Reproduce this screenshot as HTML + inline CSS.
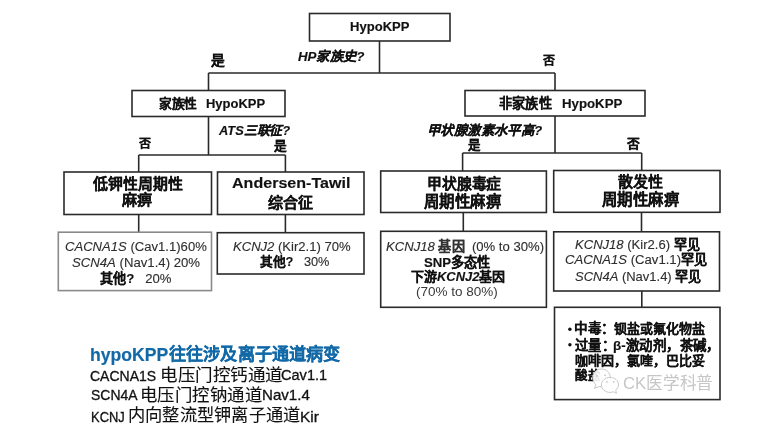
<!DOCTYPE html>
<html lang="zh-CN"><head><meta charset="utf-8"><style>
html,body{margin:0;padding:0;background:#fff;width:761px;height:430px;overflow:hidden;position:relative}
body{font-family:"Liberation Sans",sans-serif}
.t{position:absolute;white-space:nowrap;line-height:1;transform-origin:0 0}
svg{position:absolute;left:0;top:0}
.t2{position:absolute;white-space:nowrap;line-height:1;transform-origin:0 0;color:#c6c6c6;font-weight:normal}
.g{font-weight:normal;color:#2e2e2e;-webkit-text-stroke:0.12px currentColor}
b{-webkit-text-stroke:0.15px currentColor}
.b{font-weight:bold;color:#111}
#wrap{position:absolute;left:0;top:0;width:761px;height:430px;filter:blur(0.35px)}
</style></head><body><div id="wrap">
<svg width="761" height="430" viewBox="0 0 761 430"><g stroke="#2a2a2a" stroke-width="1.6" fill="none">
<line x1="379.5" y1="41" x2="379.5" y2="73"/>
<line x1="208.5" y1="73" x2="555" y2="73"/>
<line x1="208.5" y1="73" x2="208.5" y2="90.5"/>
<line x1="555" y1="73" x2="555" y2="90.5"/>
<line x1="208.5" y1="116.5" x2="208.5" y2="155"/>
<line x1="138.7" y1="155" x2="285.4" y2="155"/>
<line x1="138.7" y1="155" x2="138.7" y2="172"/>
<line x1="285.4" y1="155" x2="285.4" y2="172"/>
<line x1="555" y1="116" x2="555" y2="153"/>
<line x1="462.6" y1="153" x2="641.7" y2="153"/>
<line x1="462.6" y1="153" x2="462.6" y2="171"/>
<line x1="641.7" y1="153" x2="641.7" y2="171"/>
<line x1="138.7" y1="214.5" x2="138.7" y2="232.2"/>
<line x1="285.4" y1="214.5" x2="285.4" y2="232.7"/>
<line x1="463.3" y1="212.5" x2="463.3" y2="231.3"/>
<line x1="641.5" y1="212.3" x2="641.5" y2="231.8"/>
<line x1="641.8" y1="291" x2="641.8" y2="307.3"/>
<rect x="309.5" y="13.5" width="140.5" height="27.5"/>
<rect x="132" y="90.5" width="153" height="26"/>
<rect x="465" y="90.5" width="180" height="25.5"/>
<rect x="64" y="172" width="147.5" height="42.5"/>
<rect x="217.5" y="172" width="146.5" height="42.5"/>
<rect x="380.7" y="171" width="165.7" height="41.5"/>
<rect x="553.7" y="170.5" width="166.3" height="41.8"/>
<rect x="217.3" y="232.7" width="146.7" height="41.3"/>
<rect x="380.7" y="231.3" width="165.7" height="76"/>
<rect x="553.7" y="231.8" width="165.8" height="59.2"/>
<rect x="554.5" y="307.3" width="165.5" height="92.3"/>
<rect x="58.3" y="232.2" width="153.2" height="58.4" stroke="#8a8a8a"/></g><g fill="#111"><circle cx="569.9" cy="329.2" r="1.7"/><circle cx="569.9" cy="344.7" r="1.7"/></g></svg>
<div id="t1" class="t" style="left:350.10px;top:20.35px;font-size:13.00px;font-weight:bold;color:#111;transform:scale(1.0042,1.0132);-webkit-text-stroke:0.15px currentColor;">HypoKPP</div>
<div id="t2" class="t" style="left:297.64px;top:50.17px;font-size:13.00px;font-weight:bold;color:#111;font-style:italic;transform:scale(1.0228,1.0228);-webkit-text-stroke:0.15px currentColor;">HP家族史?</div>
<div id="t3" class="t" style="left:211.02px;top:53.32px;font-size:14.00px;font-weight:bold;color:#111;transform:scale(0.9836,0.9836);-webkit-text-stroke:0.15px currentColor;">是</div>
<div id="t4" class="t" style="left:543.00px;top:54.54px;font-size:12.00px;font-weight:bold;color:#111;transform:scale(1.0000,1.0000);-webkit-text-stroke:0.15px currentColor;">否</div>
<div id="t7" class="t" style="left:219.00px;top:123.59px;font-size:13.00px;font-weight:bold;color:#111;font-style:italic;transform:scale(0.9861,0.9861);-webkit-text-stroke:0.15px currentColor;">ATS三联征?</div>
<div id="t8" class="t" style="left:139.00px;top:137.54px;font-size:12.00px;font-weight:bold;color:#111;transform:scale(1.0000,1.0000);-webkit-text-stroke:0.15px currentColor;">否</div>
<div id="t9" class="t" style="left:273.98px;top:138.75px;font-size:13.00px;font-weight:bold;color:#111;transform:scale(0.9766,0.9766);-webkit-text-stroke:0.15px currentColor;">是</div>
<div id="t10" class="t" style="left:427.23px;top:123.90px;font-size:14.00px;font-weight:bold;color:#111;font-style:italic;transform:scale(0.9561,0.9561);-webkit-text-stroke:0.15px currentColor;">甲状腺激素水平高?</div>
<div id="t11" class="t" style="left:467.79px;top:138.19px;font-size:14.00px;font-weight:bold;color:#111;transform:scale(0.8955,0.8955);-webkit-text-stroke:0.15px currentColor;">是</div>
<div id="t12" class="t" style="left:627.00px;top:137.45px;font-size:12.00px;font-weight:bold;color:#111;transform:scale(1.0725,1.0725);-webkit-text-stroke:0.15px currentColor;">否</div>
<div id="t13" class="t" style="left:92.63px;top:176.26px;font-size:15.00px;font-weight:bold;color:#111;transform:scale(0.9942,0.9942);-webkit-text-stroke:0.15px currentColor;">低钾性周期性</div>
<div id="t14" class="t" style="left:121.93px;top:191.98px;font-size:15.00px;font-weight:bold;color:#111;transform:scale(1.0122,1.0122);-webkit-text-stroke:0.15px currentColor;">麻痹</div>
<div id="t15" class="t" style="left:232.25px;top:176.37px;font-size:16.00px;font-weight:bold;color:#111;transform:scale(1.0041,0.9112);-webkit-text-stroke:0.15px currentColor;">Andersen-Tawil</div>
<div id="t16" class="t" style="left:268.32px;top:195.72px;font-size:16.00px;font-weight:bold;color:#111;transform:scale(0.9406,0.9406);-webkit-text-stroke:0.15px currentColor;">综合征</div>
<div id="t17" class="t" style="left:426.54px;top:175.84px;font-size:15.00px;font-weight:bold;color:#111;transform:scale(0.9894,0.9894);-webkit-text-stroke:0.15px currentColor;">甲状腺毒症</div>
<div id="t18" class="t" style="left:423.98px;top:193.82px;font-size:16.00px;font-weight:bold;color:#111;transform:scale(0.9671,0.9671);-webkit-text-stroke:0.15px currentColor;">周期性麻痹</div>
<div id="t19" class="t" style="left:618.00px;top:174.42px;font-size:15.00px;font-weight:bold;color:#111;transform:scale(1.0000,1.0000);-webkit-text-stroke:0.15px currentColor;">散发性</div>
<div id="t20" class="t" style="left:601.99px;top:191.93px;font-size:16.00px;font-weight:bold;color:#111;transform:scale(0.9651,0.9651);-webkit-text-stroke:0.15px currentColor;">周期性麻痹</div>
<div id="t21" class="t" style="left:65.09px;top:239.91px;font-size:13.00px;font-weight:normal;color:#333;transform:scale(1.0064,1.0064);"><span class="g" style="font-style:italic">CACNA1S</span><span class="g"> (Cav1.1)60%</span></div>
<div id="t22" class="t" style="left:72.11px;top:255.74px;font-size:13.00px;font-weight:normal;color:#333;transform:scale(1.0128,1.0128);"><span class="g" style="font-style:italic">SCN4A</span><span class="g"> (Nav1.4) 20%</span></div>
<div id="t23" class="t" style="left:99.94px;top:271.52px;font-size:13.00px;font-weight:bold;color:#111;transform:scale(1.0094,1.0094);-webkit-text-stroke:0.15px currentColor;">其他?&nbsp;&nbsp;&nbsp;<span class="g">20%</span></div>
<div id="t24" class="t" style="left:232.50px;top:240.13px;font-size:13.00px;font-weight:normal;color:#333;transform:scale(1.0050,1.0050);"><span class="g" style="font-style:italic">KCNJ2</span><span class="g"> (Kir2.1) 70%</span></div>
<div id="t25" class="t" style="left:260.34px;top:254.61px;font-size:13.00px;font-weight:bold;color:#111;transform:scale(0.9810,0.9810);-webkit-text-stroke:0.15px currentColor;">其他?&nbsp;&nbsp;&nbsp;<span class="g">30%</span></div>
<div id="t26" class="t" style="left:385.97px;top:239.70px;font-size:13.00px;font-weight:normal;color:#333;transform:scale(1.0076,1.0076);"><span class="g" style="font-style:italic">KCNJ18</span> <b>基因</b><span class="g">&nbsp;&nbsp;(0% to 30%)</span></div>
<div id="t27" class="t" style="left:423.79px;top:255.81px;font-size:13.00px;font-weight:bold;color:#111;transform:scale(1.0138,1.0138);-webkit-text-stroke:0.15px currentColor;">SNP多态性</div>
<div id="t28" class="t" style="left:410.70px;top:270.09px;font-size:13.00px;font-weight:bold;color:#111;transform:scale(0.9980,0.9980);-webkit-text-stroke:0.15px currentColor;">下游<i>KCNJ2</i>基因</div>
<div id="t29" class="t" style="left:415.96px;top:285.00px;font-size:13.00px;font-weight:normal;color:#3a3a3a;transform:scale(1.0391,1.0391);">(70% to 80%)</div>
<div id="t30" class="t" style="left:574.83px;top:238.39px;font-size:13.00px;font-weight:bold;color:#111;transform:scale(1.0045,1.0346);-webkit-text-stroke:0.15px currentColor;"><span class="g" style="font-style:italic">KCNJ18</span><span class="g"> (Kir2.6)</span> 罕见</div>
<div id="t31" class="t" style="left:564.78px;top:253.07px;font-size:13.00px;font-weight:bold;color:#111;transform:scale(1.0100,1.0402);-webkit-text-stroke:0.15px currentColor;"><span class="g" style="font-style:italic">CACNA1S</span><span class="g"> (Cav1.1)</span>罕见</div>
<div id="t32" class="t" style="left:574.55px;top:269.82px;font-size:13.00px;font-weight:bold;color:#111;transform:scale(0.9986,1.0286);-webkit-text-stroke:0.15px currentColor;"><span class="g" style="font-style:italic">SCN4A</span><span class="g"> (Nav1.4)</span> 罕见</div>
<div id="t35" class="t" style="left:575.36px;top:353.91px;font-size:13.00px;font-weight:bold;color:#111;transform:scale(1.0013,1.0013);-webkit-text-stroke:0.15px currentColor;">咖啡因，氯喹，巴比妥</div>
<div id="t36" class="t" style="left:575.00px;top:369.90px;font-size:12.00px;font-weight:bold;color:#111;transform:scale(1.0422,1.0422);-webkit-text-stroke:0.15px currentColor;">酸盐</div>
<div id="t38a" class="t" style="left:89.89px;top:345.39px;font-size:15.00px;font-weight:bold;color:#1269a8;transform:scale(1.1734,1.2074);-webkit-text-stroke:0.15px currentColor;">hypoKPP</div>
<div id="t38b" class="t" style="left:169.10px;top:346.42px;font-size:17.00px;font-weight:bold;color:#1269a8;transform:scale(1.0092,1.0092);-webkit-text-stroke:0.15px currentColor;">往往涉及离子通道病变</div>
<div id="t39a" class="t" style="left:90.19px;top:369.12px;font-size:14.00px;font-weight:normal;color:#111;transform:scale(0.9990,1.0289);-webkit-text-stroke:0.3px currentColor;">CACNA1S</div>
<div id="t39b" class="t" style="left:159.50px;top:366.52px;font-size:17.00px;font-weight:normal;color:#111;transform:scale(1.0327,1.0327);-webkit-text-stroke:0.1px currentColor;">电压门控钙通道</div>
<div id="t39c" class="t" style="left:280.63px;top:368.49px;font-size:14.00px;font-weight:normal;color:#111;transform:scale(1.0398,1.0398);-webkit-text-stroke:0.3px currentColor;">Cav1.1</div>
<div id="t40a" class="t" style="left:90.56px;top:387.50px;font-size:14.00px;font-weight:normal;color:#111;transform:scale(0.9964,1.0412);-webkit-text-stroke:0.3px currentColor;">SCN4A</div>
<div id="t40b" class="t" style="left:140.40px;top:386.84px;font-size:17.00px;font-weight:normal;color:#111;transform:scale(1.0250,1.0250);-webkit-text-stroke:0.1px currentColor;">电压门控钠通道</div>
<div id="t40c" class="t" style="left:262.00px;top:388.42px;font-size:14.00px;font-weight:normal;color:#111;transform:scale(1.0788,1.0410);-webkit-text-stroke:0.3px currentColor;">Nav1.4</div>
<div id="t41a" class="t" style="left:90.74px;top:409.65px;font-size:14.00px;font-weight:normal;color:#111;transform:scale(0.9243,1.0259);-webkit-text-stroke:0.3px currentColor;">KCNJ</div>
<div id="t41b" class="t" style="left:127.95px;top:407.32px;font-size:17.00px;font-weight:normal;color:#111;transform:scale(1.0147,1.0147);-webkit-text-stroke:0.1px currentColor;">内向整流型钾离子通道</div>
<div id="t41c" class="t" style="left:300.09px;top:409.08px;font-size:14.00px;font-weight:normal;color:#111;transform:scale(1.1053,1.0556);-webkit-text-stroke:0.3px currentColor;">Kir</div>
<div id="t5a" class="t" style="left:159.08px;top:97.36px;font-size:13.00px;font-weight:bold;color:#111;transform:scale(0.9801,0.9801);-webkit-text-stroke:0.15px currentColor;">家族性</div>
<div id="t5b" class="t" style="left:205.93px;top:97.39px;font-size:13.00px;font-weight:bold;color:#111;transform:scale(0.9980,0.9980);-webkit-text-stroke:0.15px currentColor;">HypoKPP</div>
<div id="t6a" class="t" style="left:499.34px;top:97.37px;font-size:13.00px;font-weight:bold;color:#111;transform:scale(1.0164,1.0164);-webkit-text-stroke:0.15px currentColor;">非家族性</div>
<div id="t6b" class="t" style="left:562.26px;top:97.26px;font-size:13.00px;font-weight:bold;color:#111;transform:scale(1.0185,1.0185);-webkit-text-stroke:0.15px currentColor;">HypoKPP</div>
<div id="t33a" class="t" style="left:574.45px;top:321.97px;font-size:13.00px;font-weight:bold;color:#111;transform:scale(1.0411,1.0411);-webkit-text-stroke:0.15px currentColor;">中毒：</div>
<div id="t33b" class="t" style="left:614.12px;top:321.79px;font-size:13.00px;font-weight:bold;color:#111;transform:scale(0.9981,0.9981);-webkit-text-stroke:0.15px currentColor;">钡盐或氟化物盐</div>
<div id="t34a" class="t" style="left:574.77px;top:339.00px;font-size:13.00px;font-weight:bold;color:#111;transform:scale(1.0271,1.0271);-webkit-text-stroke:0.15px currentColor;">过量：</div>
<div id="t34b" class="t" style="left:613.15px;top:338.66px;font-size:13.00px;font-weight:bold;color:#111;transform:scale(1.0351,1.0351);-webkit-text-stroke:0.15px currentColor;">β-激动剂，茶碱，</div>
<svg class="wm" width="761" height="430" viewBox="0 0 761 430" style="position:absolute;left:0;top:0">
<g fill="#fff" fill-opacity="0.92" stroke="#c8c8c8" stroke-width="1">
<path d="M601.5,369 C596.5,369 592.8,372.8 592.8,377.5 C592.8,380.5 594,383 596,384.8 L594.5,388.3 L599.5,386.4 C600.2,386.6 600.9,386.7 601.5,386.7 C606.5,386.7 610.2,382.5 610.2,377.5 C610.2,372.8 606.5,369 601.5,369 Z"/>
<path d="M610,377.4 C605.2,377.4 601.4,380.8 601.4,384.9 C601.4,389 605.2,392.4 610,392.4 C611.2,392.4 612.3,392.2 613.3,391.8 L616.5,393.3 L615.7,390 C617.4,388.6 618.6,386.8 618.6,384.9 C618.6,380.8 614.8,377.4 610,377.4 Z"/>
</g>
<g fill="#c4c4c4"><circle cx="597" cy="375.8" r="0.9"/><circle cx="605" cy="375.3" r="0.9"/><circle cx="607" cy="381.9" r="0.8"/><circle cx="613.7" cy="381.9" r="0.8"/></g>
</svg>
<div class="t2 wm" style="left:622.7185440613521px;top:374.7506265094125px;font-size:17px;transform:scale(0.9811149004247024,0.9811149004247024)">CK医学科普</div>
</div></body></html>
